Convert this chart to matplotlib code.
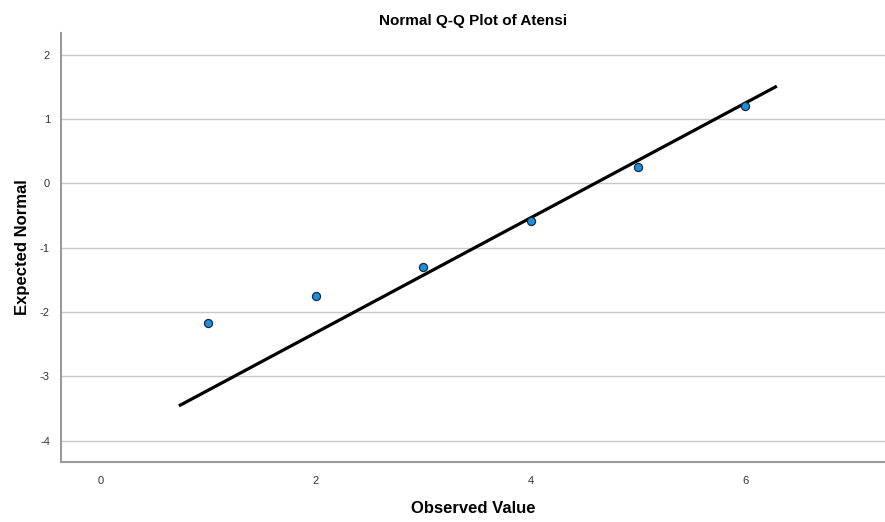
import numpy as np
import matplotlib.pyplot as plt

plt.rcParams['font.family'] = ['Liberation Sans', 'DejaVu Sans']
plt.rcParams['axes.unicode_minus'] = False

# Nilai observasi dan nilai harapan normal
observed = [1, 2, 3, 4, 5, 6]
expected = [-2.17, -1.75, -1.30, -0.59, 0.26, 1.21]

# Garis referensi normal: z = (x - rata-rata) / simpangan baku
mean_obs = 4.60
sd_obs = 1.12
line_x = np.array([0.74, 6.28])
line_y = (line_x - mean_obs) / sd_obs

fig = plt.figure(figsize=(8.85, 5.22), dpi=100)
ax = fig.add_axes([0.069, 0.115, 0.931, 0.822])

ax.plot(line_x, line_y, color='black', linewidth=2.3, zorder=3)
ax.scatter(observed, expected, s=34, color='#1a8fe0', edgecolor='#1a2a3a',
           linewidth=0.9, zorder=4)

ax.set_xlim(-0.37, 7.3)
ax.set_ylim(-4.33, 2.34)
ax.set_xticks([0, 2, 4, 6])
ax.set_yticks([-4, -3, -2, -1, 0, 1, 2])
ax.tick_params(axis='x', length=0, labelsize=8, colors='#333333', pad=10)
ax.tick_params(axis='y', length=0, labelsize=8, colors='#333333', pad=8)
ax.yaxis.grid(True, color='#c8c8c8', linewidth=1)
ax.set_axisbelow(True)

for side in ['top', 'right']:
    ax.spines[side].set_visible(False)
for side in ['left', 'bottom']:
    ax.spines[side].set_color('#9a9a9a')
    ax.spines[side].set_linewidth(1.5)

ax.set_title('Normal Q-Q Plot of Atensi', fontsize=11, fontweight='bold', pad=6)
ax.set_xlabel('Observed Value', fontsize=12, fontweight='bold', labelpad=11)
ax.set_ylabel('Expected Normal', fontsize=12, fontweight='bold', labelpad=7)

fig.savefig('out.png', dpi=100)
